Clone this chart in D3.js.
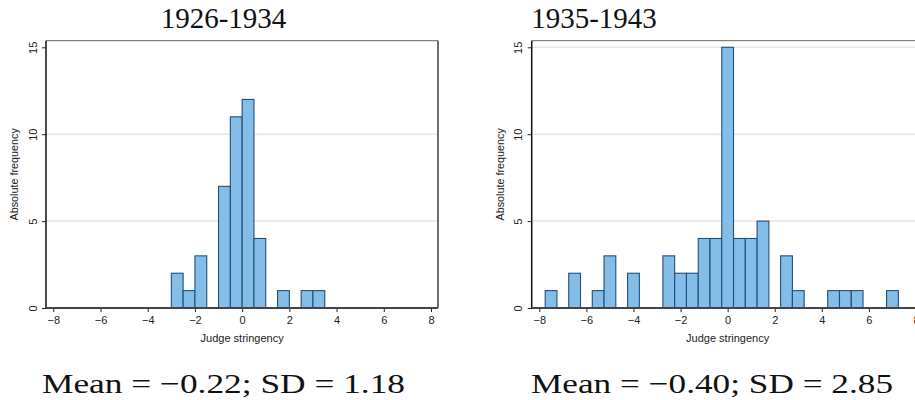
<!DOCTYPE html>
<html>
<head>
<meta charset="utf-8">
<script src="https://cdn.jsdelivr.net/npm/d3@7"></script>
<style>
  body { margin: 0; background: #fff; }
  svg { display: block; }
</style>
</head>
<body>
<svg id="chart" width="915" height="400"></svg>
<script>
// histogram bins are 0.5 wide
const binWidth = 0.5;

const leftTitle = '1926-1934';
const leftStart = -3;
const leftCounts = [2, 1, 3, 0, 7, 11, 12, 4, 0, 1, 0, 1, 1];
const leftStats = 'Mean = \u22120.22; SD = 1.18';

const rightTitle = '1935-1943';
const rightStart = -7.75;
const rightCounts = [1, 0, 2, 0, 1, 3, 0, 2, 0, 0, 3, 2, 2, 4, 4, 15, 4, 4, 5, 0, 3, 1, 0, 0, 1, 1, 1, 0, 0, 1];
const rightStats = 'Mean = \u22120.40; SD = 2.85';

const xTicks = [-8, -6, -4, -2, 0, 2, 4, 6, 8];
const yTicks = [0, 5, 10, 15];

const sans = '"Liberation Sans", Arial, sans-serif';
const serif = '"Liberation Serif", "Times New Roman", serif';

const svg = d3.select('#chart');

const drawPanel = (opts) => {
  const { title, start, counts, stats, frameLeft, frameRight, x0, x1, titleX, statsX, statsW, grid } = opts;
  const top = 40.7, bottom = 308;

  const x = d3.scaleLinear().domain([-8, 8]).range([x0, x1]);
  const y = d3.scaleLinear().domain([0, 15]).range([bottom, 47.3]);

  const bins = counts.map((c, i) => ({ lo: start + i * binWidth, hi: start + (i + 1) * binWidth, n: c }))
    .filter(d => d.n > 0);

  const g = svg.append('g');

  // gridlines
  g.selectAll('line.grid')
    .data(grid)
    .enter().append('line')
    .attr('x1', frameLeft).attr('x2', frameRight)
    .attr('y1', d => y(d)).attr('y2', d => y(d))
    .attr('stroke', '#e6e6e6').attr('stroke-width', 1.5);

  // bars
  g.selectAll('rect.bar')
    .data(bins)
    .enter().append('rect')
    .attr('x', d => x(d.lo))
    .attr('y', d => y(d.n))
    .attr('width', d => x(d.hi) - x(d.lo))
    .attr('height', d => y(0) - y(d.n))
    .attr('fill', '#84bee8')
    .attr('stroke', '#1f4f7c')
    .attr('stroke-width', 1.1);

  // frame (top + right)
  g.append('line').attr('x1', frameLeft).attr('x2', frameRight).attr('y1', top).attr('y2', top)
    .attr('stroke', '#666').attr('stroke-width', 1);
  g.append('line').attr('x1', frameRight).attr('x2', frameRight).attr('y1', top).attr('y2', bottom)
    .attr('stroke', '#222').attr('stroke-width', 1.3);

  // y axis
  const yAxis = g.append('g')
    .attr('transform', `translate(${frameLeft},0)`)
    .call(d3.axisLeft(y).tickValues(yTicks).tickSize(4).tickSizeOuter(0));
  yAxis.select('.domain').remove();
  yAxis.append('line').attr('x1', 0).attr('x2', 0).attr('y1', top).attr('y2', bottom + 1)
    .attr('stroke', '#111').attr('stroke-width', 1.5);
  yAxis.selectAll('.tick line').attr('stroke', '#222');
  yAxis.selectAll('.tick text')
    .attr('x', null).attr('dy', null)
    .attr('transform', 'translate(-13.3,0) rotate(-90)')
    .attr('text-anchor', 'middle')
    .attr('dy', '0.35em')
    .style('font-family', sans)
    .style('font-size', '11px')
    .attr('fill', '#222');

  // x axis
  const xAxis = g.append('g')
    .attr('transform', `translate(0,${bottom})`)
    .call(d3.axisBottom(x).tickValues(xTicks).tickSize(4).tickSizeOuter(0));
  xAxis.select('.domain').remove();
  xAxis.append('line').attr('x1', frameLeft).attr('x2', frameRight).attr('y1', 0).attr('y2', 0)
    .attr('stroke', '#444').attr('stroke-width', 2);
  xAxis.selectAll('.tick line').attr('stroke', '#222');
  xAxis.selectAll('.tick text')
    .attr('y', 8)
    .style('font-family', sans)
    .style('font-size', '11px')
    .attr('fill', '#222');

  // axis titles
  g.append('text')
    .attr('x', x(0))
    .attr('y', 341.5)
    .attr('text-anchor', 'middle')
    .style('font-family', sans)
    .style('font-size', '11px')
    .attr('fill', '#222')
    .text('Judge stringency');

  g.append('text')
    .attr('transform', `translate(${frameLeft - 28},${(top + bottom) / 2}) rotate(-90)`)
    .attr('text-anchor', 'middle')
    .style('font-family', sans)
    .style('font-size', '10.8px')
    .attr('fill', '#222')
    .text('Absolute frequency');

  // title and summary stats
  svg.append('text')
    .attr('x', titleX).attr('y', 28)
    .attr('text-anchor', 'middle')
    .style('font-family', serif)
    .style('font-size', '29px')
    .attr('fill', '#111')
    .text(title);

  svg.append('text')
    .attr('x', statsX).attr('y', 393)
    .attr('textLength', statsW)
    .attr('lengthAdjust', 'spacingAndGlyphs')
    .style('font-family', serif)
    .style('font-size', '28px')
    .attr('fill', '#111')
    .text(stats);
};

drawPanel({
  title: leftTitle, start: leftStart, counts: leftCounts, stats: leftStats,
  frameLeft: 46, frameRight: 438, x0: 53.3, x1: 431,
  titleX: 223.5, statsX: 42, statsW: 363, grid: [5, 10]
});

drawPanel({
  title: rightTitle, start: rightStart, counts: rightCounts, stats: rightStats,
  frameLeft: 531.7, frameRight: 923, x0: 539.3, x1: 916,
  titleX: 594, statsX: 531, statsW: 362, grid: [5, 10, 15]
});
</script>
</body>
</html>
